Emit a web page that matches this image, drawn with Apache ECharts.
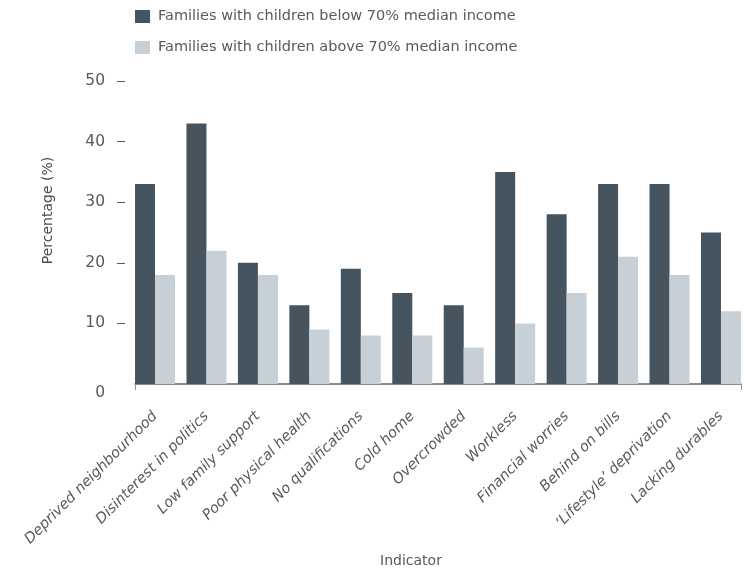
<!DOCTYPE html>
<html>
<head>
<meta charset="utf-8">
<script src="https://cdn.jsdelivr.net/npm/echarts@6/dist/echarts.min.js"></script>
<style>
  html, body { margin: 0; padding: 0; background: #fff; }
  #chart { width: 745px; height: 568px; }
</style>
</head>
<body>
<div id="chart"></div>
<script>
const categories = [
  'Deprived neighbourhood', 'Disinterest in politics', 'Low family support',
  'Poor physical health', 'No qualifications', 'Cold home', 'Overcrowded',
  'Workless', 'Financial worries', 'Behind on bills',
  '\u2018Lifestyle\u2019 deprivation', 'Lacking durables'
]
const belowMedian = [33, 43, 20, 13, 19, 15, 13, 35, 28, 33, 33, 25]
const aboveMedian = [18, 22, 18, 9, 8, 8, 6, 10, 15, 21, 18, 12]
const seriesNames = [
  'Families with children below 70% median income',
  'Families with children above 70% median income'
]
const yTickValues = [10, 20, 30, 40, 50]

const DARK = '#45545f'
const LIGHT = '#c8d0d7'
const TEXT = '#555b60'
const FONT = 'DejaVu Sans'

const chart = echarts.init(document.getElementById('chart'))

chart.setOption({
  backgroundColor: '#fff',
  textStyle: { fontFamily: FONT },
  legend: {
    orient: 'vertical',
    left: 135,
    top: 9,
    padding: 0,
    itemWidth: 15,
    itemHeight: 13,
    itemGap: 16,
    icon: 'rect',
    textStyle: { fontFamily: FONT, fontSize: 14.5, color: TEXT, padding: [0, 0, 0, 3] },
    data: seriesNames
  },
  grid: [
    // bars: widened so the outer bar groups touch the axis ends
    { left: 129.3, right: -1.7, top: 81, bottom: 184, containLabel: false, outerBoundsMode: 'none' },
    // decoration axis line with end ticks
    { left: 135, right: 4, top: 81, bottom: 184, containLabel: false, outerBoundsMode: 'none' }
  ],
  xAxis: [
    {
      type: 'category',
      gridIndex: 0,
      data: categories,
      axisLine: { show: false },
      axisTick: { show: false },
      axisLabel: {
        rotate: 45,
        margin: 30,
        fontFamily: FONT,
        fontSize: 14.5,
        fontStyle: 'italic',
        color: TEXT,
        interval: 0
      }
    },
    {
      type: 'value',
      gridIndex: 1,
      min: 0,
      max: 1,
      interval: 1,
      axisLine: { show: true, onZero: false, lineStyle: { color: '#5d6870', width: 1.5 } },
      axisTick: { show: true, length: 6, lineStyle: { color: '#8a949b', width: 1 } },
      axisLabel: { show: false },
      splitLine: { show: false },
      name: 'Indicator',
      nameLocation: 'middle',
      nameGap: 170,
      nameTextStyle: { fontFamily: FONT, fontSize: 14, color: TEXT, padding: [0, 54, 0, 0] }
    }
  ],
  yAxis: [
    {
      type: 'value',
      gridIndex: 0,
      min: 0,
      max: 50,
      interval: 10,
      offset: 4.3,
      axisLine: { show: false },
      axisTick: {
        show: true,
        length: 8,
        customValues: yTickValues,
        lineStyle: { color: TEXT, width: 1 }
      },
      axisLabel: {
        margin: 20,
        fontFamily: FONT,
        fontSize: 15.5,
        color: TEXT,
        formatter: v => (v === 0 ? '{z|0}' : String(v)),
        rich: { z: { fontFamily: FONT, fontSize: 15.5, color: TEXT, padding: [18, 0, 0, 0] } }
      },
      splitLine: { show: false },
      name: 'Percentage (%)',
      nameLocation: 'middle',
      nameGap: 70,
      nameTextStyle: { fontFamily: FONT, fontSize: 14, color: '#454c52', padding: [0, 0, 0, 44] }
    },
    { type: 'value', gridIndex: 1, min: 0, max: 50, show: false }
  ],
  series: [
    {
      name: seriesNames[0],
      type: 'bar',
      xAxisIndex: 0,
      yAxisIndex: 0,
      data: belowMedian,
      barWidth: 20,
      barGap: '0%',
      itemStyle: { color: DARK }
    },
    {
      name: seriesNames[1],
      type: 'bar',
      xAxisIndex: 0,
      yAxisIndex: 0,
      data: aboveMedian,
      barWidth: 20,
      barGap: '0%',
      itemStyle: { color: LIGHT }
    }
  ]
})
</script>
</body>
</html>
